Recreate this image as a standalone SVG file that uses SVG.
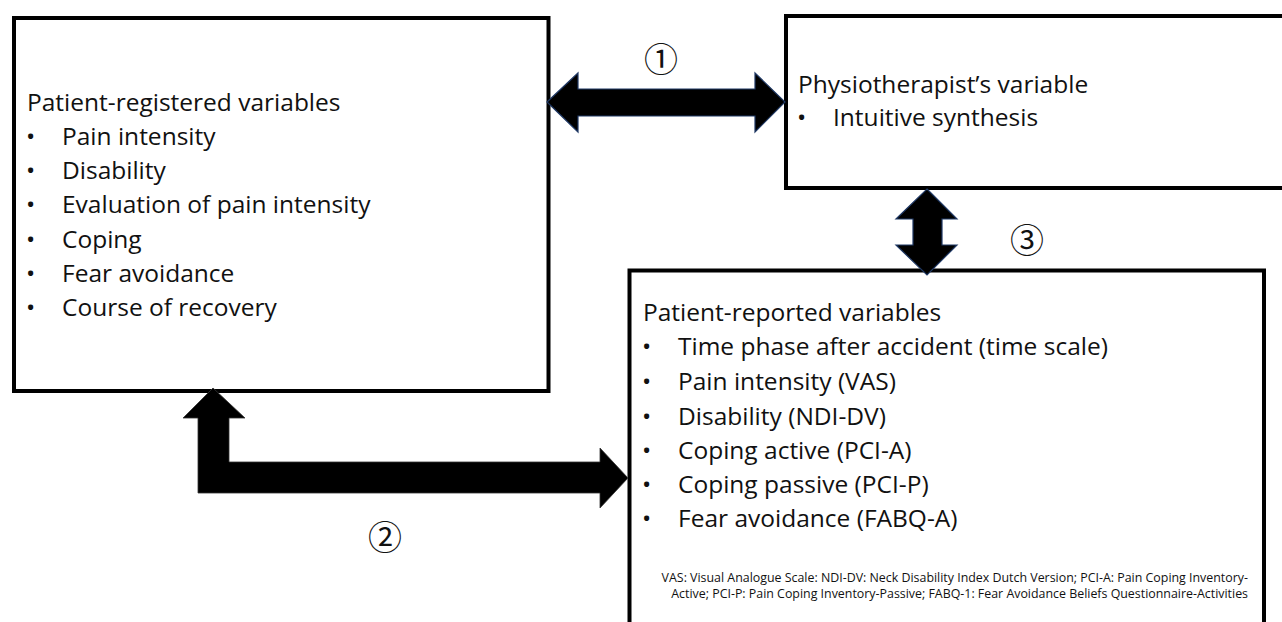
<svg xmlns="http://www.w3.org/2000/svg" width="1282" height="622" viewBox="0 0 1282 622">
<style>
.box{fill:#fff;stroke:#000;stroke-width:4}
.t{font-family:"Open Sans",Lato,"Liberation Sans",sans-serif;font-size:24.5px;fill:#111}
.fn{font-family:"Open Sans",Lato,"Liberation Sans",sans-serif;font-size:12.4px;fill:#111;text-anchor:end}
.num{font-family:"Noto Sans CJK JP","DejaVu Sans",sans-serif;font-size:34px;fill:#111;text-anchor:middle}
.arr{fill:#000;stroke:#1f3864;stroke-width:1.2;stroke-linejoin:miter}
.arr2{fill:#000;stroke:#333;stroke-width:0.8}
</style>
<rect width="1282" height="622" fill="#fff"/>
<g id="node-registered">
<rect class="box" x="14" y="18" width="534.5" height="373"/>
<text class="t" x="27" y="111">Patient-registered variables</text>
<g class="t">
<text x="26" y="145">•</text><text x="62" y="145">Pain intensity</text>
<text x="26" y="179">•</text><text x="62" y="179">Disability</text>
<text x="26" y="213">•</text><text x="62" y="213">Evaluation of pain intensity</text>
<text x="26" y="248">•</text><text x="62" y="248">Coping</text>
<text x="26" y="282">•</text><text x="62" y="282">Fear avoidance</text>
<text x="26" y="316">•</text><text x="62" y="316">Course of recovery</text>
</g>
</g>
<g id="node-physio">
<rect class="box" x="786" y="16" width="520" height="172"/>
<text class="t" x="798" y="93">Physiotherapist’s variable</text>
<text class="t" x="797" y="126">•</text><text class="t" x="833" y="126">Intuitive synthesis</text>
</g>
<g id="node-reported">
<rect class="box" x="629.5" y="270.5" width="634.5" height="400"/>
<text class="t" x="643" y="321">Patient-reported variables</text>
<g class="t">
<text x="642" y="355">•</text><text x="678" y="355">Time phase after accident (time scale)</text>
<text x="642" y="390">•</text><text x="678" y="390">Pain intensity (VAS)</text>
<text x="642" y="425">•</text><text x="678" y="425">Disability (NDI-DV)</text>
<text x="642" y="459">•</text><text x="678" y="459">Coping active (PCI-A)</text>
<text x="642" y="493">•</text><text x="678" y="493">Coping passive (PCI-P)</text>
<text x="642" y="527">•</text><text x="678" y="527">Fear avoidance (FABQ-A)</text>
</g>
<text class="fn" x="1248" y="582">VAS: Visual Analogue Scale: NDI-DV: Neck Disability Index Dutch Version; PCI-A: Pain Coping Inventory-</text>
<text class="fn" x="1248" y="598">Active; PCI-P: Pain Coping Inventory-Passive; FABQ-1: Fear Avoidance Beliefs Questionnaire-Activities</text>
</g>
<g id="connectors">
<polygon class="arr" points="547,102 578,73 578,89 755,89 755,73 785,102 755,132 755,116 578,116 578,132"/>
<text class="num" x="661" y="72">①</text>
<polygon class="arr" points="927,189 957,219 942,219 942,245 957,245 927,275 896,245 913,245 913,219 896,219"/>
<text class="num" x="1027" y="253">③</text>
<polygon class="arr2" points="213,388 245,418 229,418 229,462 600,462 600,448 628,478 600,508 600,493 198,493 198,418 183,418"/>
<text class="num" x="385" y="550">②</text>
</g>
</svg>
